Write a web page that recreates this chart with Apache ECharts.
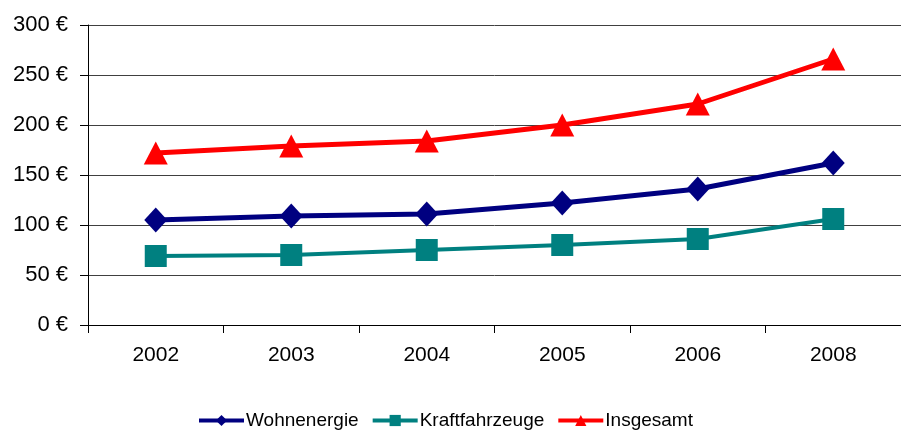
<!DOCTYPE html>
<html>
<head>
<meta charset="utf-8">
<script src="https://cdn.jsdelivr.net/npm/echarts@6/dist/echarts.min.js"></script>
<style>
  html, body { margin: 0; padding: 0; background: #fff; }
  #chart { width: 901px; height: 433px; }
</style>
</head>
<body>
<div id="chart"></div>
<script>
// Jahre und Werte (in €)
const years = ['2002', '2003', '2004', '2005', '2006', '2008'];
const wohnenergie = [105, 109, 111, 122, 136, 162];
const kraftfahrzeuge = [69, 70, 75, 80, 86, 106];
const insgesamt = [172, 179, 184, 200, 221, 266];

const chart = echarts.init(document.getElementById('chart'));

const makeSeries = (name, data, color, symbol, size, width) => ({
    name: name,
    type: 'line',
    data: data,
    symbol: symbol,
    symbolSize: size,
    lineStyle: { color: color, width: width },
    itemStyle: { color: color },
    z: 3
});

chart.setOption({
    animation: false,
    textStyle: { fontFamily: 'Liberation Sans, Arial, sans-serif' },
    grid: { left: 88, right: -11, top: 25, bottom: 108 },
    legend: {
        top: 411,
        left: 197,
        padding: 0,
        itemWidth: 45,
        itemHeight: 14,
        itemGap: 12,
        lineStyle: { width: 4 },
        textStyle: { fontSize: 19, color: '#000', padding: [0, 0, 0, -3] },
        data: ['Wohnenergie', 'Kraftfahrzeuge', 'Insgesamt']
    },
    xAxis: {
        type: 'category',
        data: years,
        boundaryGap: true,
        axisLine: { lineStyle: { color: '#000', width: 1 } },
        axisTick: { show: true, length: 8, lineStyle: { color: '#000' } },
        axisLabel: { fontSize: 21, color: '#000', margin: 20 }
    },
    yAxis: {
        type: 'value',
        min: 0,
        max: 300,
        interval: 50,
        axisLine: { show: true, lineStyle: { color: '#000', width: 1 } },
        axisTick: { show: true, length: 8, lineStyle: { color: '#000' } },
        axisLabel: { fontSize: 22, color: '#000', margin: 20, formatter: '{value} €' },
        splitLine: { lineStyle: { color: '#404040', width: 1 } }
    },
    series: [
        makeSeries('Wohnenergie', wohnenergie, '#000080', 'diamond', [23, 25], 5),
        makeSeries('Kraftfahrzeuge', kraftfahrzeuge, '#008080', 'rect', 22, 4),
        makeSeries('Insgesamt', insgesamt, '#ff0000', 'triangle', [24, 23], 5)
    ]
});
</script>
</body>
</html>
